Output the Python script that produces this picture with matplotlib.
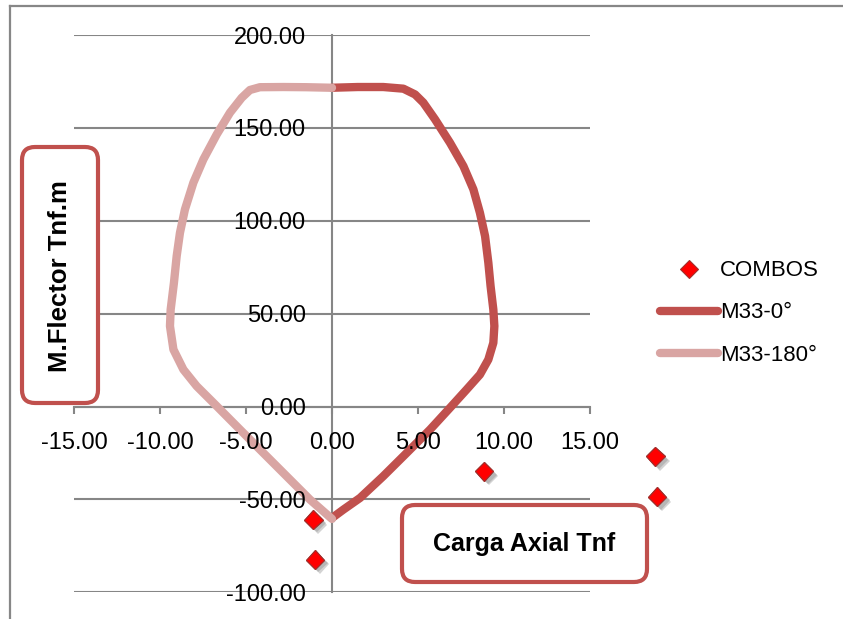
import matplotlib
matplotlib.use("Agg")
from matplotlib import pyplot as plt, patheffects as pe
from matplotlib.patches import FancyBboxPatch
from matplotlib.lines import Line2D
from matplotlib.transforms import IdentityTransform

plt.rcParams['font.family'] = ['Liberation Sans', 'DejaVu Sans']

# Interaction curve, 0 degrees (x = axial load, y = moment)
m0_x = [0.0, 1.5, 2.98, 4.15, 4.83, 5.31, 5.99, 6.86, 7.64, 8.22, 8.6, 8.9, 9.09, 9.22, 9.38, 9.44,
        9.38, 9.09, 8.6, 7.83, 6.86, 5.7, 4.34, 2.98, 1.63, 0.66, 0.0]
m0_y = [171.6, 172.0, 172.0, 171.1, 168.0, 163.6, 154.6, 142.0, 129.4, 116.9, 104.3, 91.7, 77.4, 64.8, 52.2, 43.3,
        34.3, 25.3, 17.2, 9.2, -0.7, -12.4, -25.0, -37.5, -49.2, -55.5, -60.0]

# Interaction curve, 180 degrees
m180_x = [0.0, -1.5, -2.83, -4.19, -4.77, -5.25, -5.93, -6.7, -7.48, -8.06, -8.55, -8.84, -9.03, -9.19, -9.38, -9.42,
          -9.22, -8.64, -7.87, -6.7, -5.35, -3.99, -2.64, -1.28, 0.0]
m180_y = [171.6, 171.9, 172.0, 171.9, 170.4, 166.2, 158.2, 146.5, 133.0, 120.5, 106.1, 93.5, 81.0, 66.6, 52.2, 43.3,
          30.7, 19.9, 11.0, 0.2, -12.4, -25.0, -37.5, -50.1, -60.5]

# Load combinations
combo_x = [-1.09, -0.99, 8.84, 18.8, 18.9]
combo_y = [-60.9, -82.4, -34.8, -26.8, -48.6]

x_ticks = [-15, -10, -5, 0, 5, 10, 15]
y_ticks = [-100, -50, 0, 50, 100, 150, 200]

W, H = 843, 619
fig = plt.figure(figsize=(W/100, H/100), dpi=100)
ax = fig.add_axes([74/W, 1-592.3/H, (590-74)/W, (592.3-35)/H])

grid_col = '#868686'
dark = '#C0504D'
light = '#D9A5A3'

for yv in y_ticks:
    ax.axhline(yv, color=grid_col, lw=1.5, zorder=0.8)

ax.plot(m0_x, m0_y, color=dark, lw=6, solid_capstyle='round', solid_joinstyle='round', label='M33-0°', zorder=2)
ax.plot(m180_x, m180_y, color=light, lw=6, solid_capstyle='round', solid_joinstyle='round', label='M33-180°', zorder=2.1)
ax.plot(combo_x, combo_y, ls='none', marker='D', ms=9.5, mfc='#FF0000', mec='#A0302D', mew=0.8,
        clip_on=False, zorder=4, label='COMBOS',
        path_effects=[pe.withSimplePatchShadow(offset=(3.5, -3.5), shadow_rgbFace='#707070', alpha=0.3),
                      pe.withSimplePatchShadow(offset=(2.5, -2.5), shadow_rgbFace='#808080', alpha=0.35)])

ax.set_xlim(-15, 15)
ax.set_ylim(-100, 200)
ax.set_axisbelow(False)
ax.patch.set_visible(False)

for s in ['top', 'right']:
    ax.spines[s].set_visible(False)
ax.spines['left'].set_position(('data', 0))
ax.spines['bottom'].set_position(('data', 0))
for s in ['left', 'bottom']:
    ax.spines[s].set_color(grid_col)
    ax.spines[s].set_linewidth(1.5)
    ax.spines[s].set_zorder(0.9)

ax.set_xticks(x_ticks)
ax.set_yticks(y_ticks)
ax.set_xticklabels(['%.2f' % v for v in x_ticks])
ax.set_yticklabels(['%.2f' % v for v in y_ticks])
ax.tick_params(axis='x', direction='out', length=5, width=1.5, color=grid_col, pad=13, labelsize=17)
ax.tick_params(axis='y', length=0, pad=19, labelsize=17)

# chart frame (partly outside the image)
fig.add_artist(Line2D([10/W, 10/W], [0, 1-6/H], color='#878787', lw=1.6, transform=fig.transFigure))
fig.add_artist(Line2D([10/W, 1], [1-6/H, 1-6/H], color='#878787', lw=1.6, transform=fig.transFigure))

# axis titles in rounded boxes
fig.add_artist(FancyBboxPatch((22, H-403), 76, 256, boxstyle='round,pad=0,rounding_size=13',
                              transform=IdentityTransform(), fc='white', ec=dark, lw=3, zorder=5))
fig.text(60/W, 1-276/H, 'M.Flector Tnf.m', rotation=90, ha='center', va='center',
         fontsize=18.5, fontweight='bold', zorder=6)
fig.add_artist(FancyBboxPatch((402, H-582), 245, 77, boxstyle='round,pad=0,rounding_size=13',
                              transform=IdentityTransform(), fc='white', ec=dark, lw=3, zorder=5))
fig.text(524/W, 1-544/H, 'Carga Axial Tnf', ha='center', va='center',
         fontsize=18, fontweight='bold', zorder=6)

handles, labels = ax.get_legend_handles_labels()
order = [2, 0, 1]
leg = fig.legend([handles[i] for i in order], [labels[i] for i in order],
                 loc='center left', bbox_to_anchor=(660/W, 1-313/H), frameon=False,
                 fontsize=16, handlelength=2.6, handletextpad=0.1, labelspacing=0.95,
                 borderpad=0, borderaxespad=0)
leg.legend_handles[0].set_path_effects([])

fig.savefig('out.png', dpi=100)
